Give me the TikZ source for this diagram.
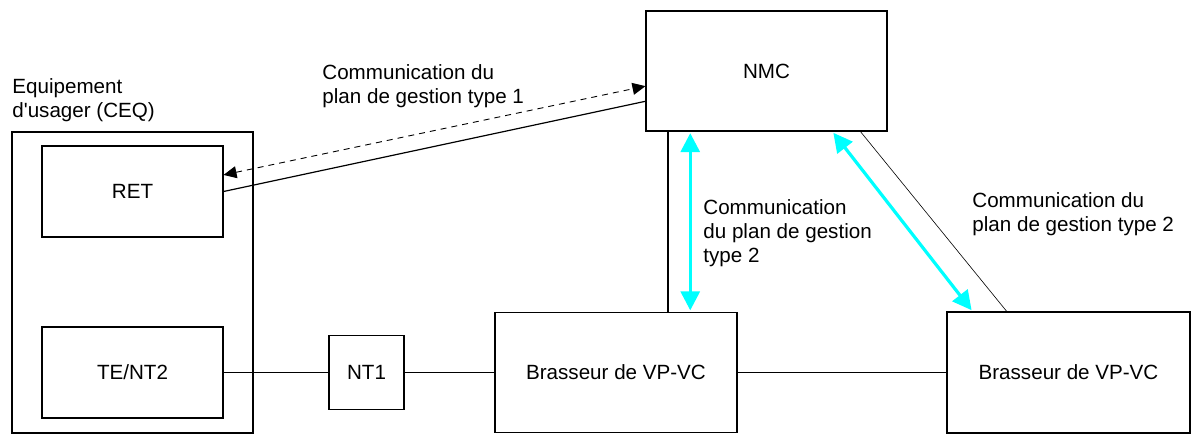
\documentclass[tikz,border=0pt]{standalone}
\usepackage{fontspec}
\setmainfont{Liberation Sans}
\usepackage{xcolor}
\usetikzlibrary{
  arrows.meta, calc, positioning
}
\definecolor{mgmtcyan}{RGB}{0,255,255}

\begin{document}
\begin{tikzpicture}[x=0.5pt, y=-0.5pt,
  font=\fontsize{10.3}{12}\selectfont,
  box/.style={draw, line width=0.55pt, inner sep=0pt},
  lbl/.style={anchor=north west, align=left, inner sep=0pt},
  mgmt/.style={mgmtcyan, line width=1.6pt, shorten <=0.8pt, shorten >=0.8pt,
    {Triangle[length=9.5pt,width=9.5pt]}-{Triangle[length=9.5pt,width=9.5pt]}}]
\useasboundingbox (0,0) rectangle (1197,434);
% equipment side
\node[box, minimum width=120.5pt, minimum height=150.5pt] (ceq) at (132.5,282.5) {};
\node[box, minimum width=90.5pt, minimum height=45.5pt] (ret) at (132.5,191.5) {RET};
\node[box, minimum width=90.5pt, minimum height=45.5pt] (te) at (132.5,372.5) {TE/NT2};
\node[lbl] (ceqlbl) at (12,78) {Equipement\\d\textquotesingle usager (CEQ)};
% network side
\node[box, minimum width=37.5pt, minimum height=37pt] (nt1) at (366.5,372.5) {NT1};
\node[box, minimum width=121pt, minimum height=60pt] (vp1) at (616,372.5) {Brasseur de VP-VC};
\node[box, minimum width=121.5pt, minimum height=60.5pt] (vp2) at (1068.5,372.5) {Brasseur de VP-VC};
\node[box, minimum width=120.5pt, minimum height=60pt] (nmc) at (766.5,71) {NMC};
% connections
\draw[line width=0.55pt] (te.east) -- (nt1.west) (nt1.east) -- (vp1.west) (vp1.east) -- (vp2.west);
\draw[line width=0.6pt] (ret.east) -- ($(nmc.north west)!0.75!(nmc.south west)$);
\draw[line width=0.45pt, dash pattern=on 3pt off 2.5pt,
  {Triangle[length=6.5pt,width=6pt]}-{Triangle[length=6.5pt,width=6pt]}]
  ($(ret.north east)!0.32!(ret.south east)$) -- ($(nmc.north west)!0.625!(nmc.south west)$);
\draw[line width=0.55pt] ($(nmc.south west)!0.093!(nmc.south east)$) coordinate (v1) -- (v1 |- vp1.north);
\draw[line width=0.3pt] ($(nmc.south west)!0.888!(nmc.south east)$) -- ($(vp2.north west)!0.247!(vp2.north east)$);
\draw[mgmt] ($(nmc.south west)!0.185!(nmc.south east)$) coordinate (c1) -- (c1 |- vp1.north);
\draw[mgmt] ($(nmc.south west)!0.772!(nmc.south east)$) -- ($(vp2.north west)!0.107!(vp2.north east)$);
% labels
\node[lbl] (type1) at (322,64) {Communication du\\plan de gestion type 1};
\node[lbl] (type2a) at (703,199) {Communication\\du plan de gestion\\type 2};
\node[lbl] (type2b) at (972,192) {Communication du\\plan de gestion type 2};
\end{tikzpicture}
\end{document}
